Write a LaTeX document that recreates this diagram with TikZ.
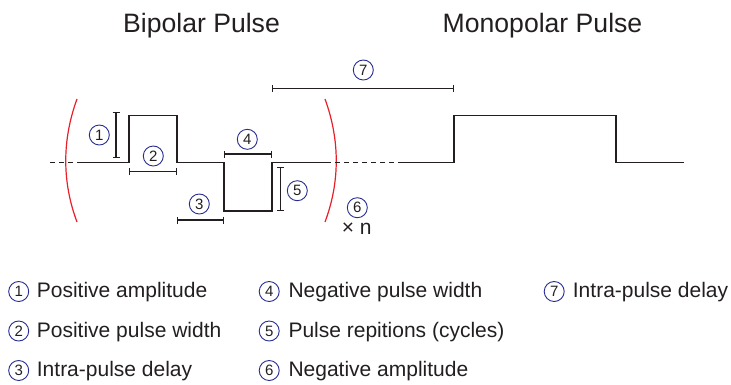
\documentclass[tikz,border=0pt]{standalone}
\usepackage{fontspec}
\setmainfont{Liberation Sans}
\usetikzlibrary{arrows.meta,positioning,calc}
\definecolor{inkgray}{RGB}{35,31,32}
\definecolor{numblue}{RGB}{40,45,145}
\definecolor{bracered}{RGB}{232,30,40}

\begin{document}
\begin{tikzpicture}[
        x=1pt, y=-1pt,
        wave/.style={draw=inkgray, line width=1.4pt, line join=miter},
        gap/.style={draw=inkgray, line width=1.4pt, dash pattern=on 5pt off 4pt},
        dim/.style={draw=inkgray, line width=1.1pt, {Bar[width=7pt,line width=1.1pt]}-{Bar[width=7pt,line width=1.1pt]}},
        repeatbrace/.style={draw=bracered, line width=1.2pt},
        num/.style={circle, draw=numblue, line width=0.9pt, minimum size=20pt, inner sep=0pt, text=inkgray, font=\fontsize{15}{15}\selectfont},
        headline/.style={text=inkgray, inner sep=0pt, anchor=base, font=\fontsize{26.6}{30}\selectfont},
        legtext/.style={text=inkgray, inner sep=0pt, anchor=base west, font=\fontsize{21}{25}\selectfont}
    ]
        \useasboundingbox (0,0) rectangle (731,384);

        \node[headline] (bipolar)   at (201.5,32.3) {Bipolar Pulse};
        \node[headline] (monopolar) at (542.5,32.3) {Monopolar Pulse};

        % pulse corners
        \coordinate (lead)   at (50,162.7);
        \coordinate (base0)  at (77,162.7);
        \coordinate (up1)    at (129,115.7);
        \coordinate (up2)    at (177,115.7);
        \coordinate (dn1)    at (224,211);
        \coordinate (dn2)    at (272,211);
        \coordinate (cut)    at (326,162.7);
        \coordinate (resume) at (402,162.7);
        \coordinate (mono1)  at (454,115.7);
        \coordinate (mono2)  at (616,115.7);
        \coordinate (tail)   at (684,162.7);

        \draw[repeatbrace] (77,99) .. controls (62,140) and (62,182) .. (77,222);
        \draw[repeatbrace] (325,99) .. controls (340,140) and (340,182) .. (325,222);

        \draw[gap] (lead) -- (base0);
        \draw[wave] (base0) -- (up1 |- base0) -- (up1) -- (up2) -- (up2 |- base0) -- (dn1 |- base0)
            -- (dn1) -- (dn2) -- (dn2 |- base0) -- (cut);
        \draw[gap] (cut) -- (resume);
        \draw[wave] (resume) -- (mono1 |- base0) -- (mono1) -- (mono2) -- (mono2 |- base0) -- (tail);

        \draw[dim] ($(up1)+(-13,-4)$) -- ($(up1 |- base0)+(-13,-4.4)$);
        \draw[dim] ($(up1 |- base0)+(0,9)$) -- ($(up2 |- base0)+(0,9)$);
        \draw[dim] ($(up2 |- dn1)+(0,9)$) -- ($(dn1)+(0,9)$);
        \draw[dim] ($(dn1 |- base0)+(0,-8.7)$) -- ($(dn2 |- base0)+(0,-8.7)$);
        \draw[dim] ($(dn2 |- base0)+(8.7,4.6)$) -- ($(dn2)+(8.7,0)$);
        \draw[dim] ($(dn2 |- base0)+(0,-74.4)$) -- ($(mono1 |- base0)+(0,-74.4)$);

        \node[num] (n1) at (99.3,135) {1};
        \node[num] (n2) at (153.3,156) {2};
        \node[num] (n3) at (199.3,204) {3};
        \node[num] (n4) at (247.3,139.3) {4};
        \node[num] (n5) at (297.3,190.7) {5};
        \node[num] (n6) at (357.3,207.7) {6};
        \node[num] (n7) at (363.3,70) {7};
        \node[legtext, anchor=base] (times) at (356.7,234) {× n};

        % legend
        \node[num] (k1) at (18.7,291.5) {1};
        \node[legtext] (t1) at (36.7,297.5) {Positive amplitude};
        \node[num] (k2) at (18.7,331) {2};
        \node[legtext] (t2) at (36.7,337) {Positive pulse width};
        \node[num] (k3) at (18.7,370.5) {3};
        \node[legtext] (t3) at (36.7,376.5) {Intra-pulse delay};

        \node[num] (k4) at (269.2,291.5) {4};
        \node[legtext] (t4) at (288.3,297.5) {Negative pulse width};
        \node[num] (k5) at (269.2,331) {5};
        \node[legtext] (t5) at (288.3,337) {Pulse repitions (cycles)};
        \node[num] (k6) at (269.2,370.5) {6};
        \node[legtext] (t6) at (288.3,376.5) {Negative amplitude};

        \node[num] (k7) at (554.2,291.5) {7};
        \node[legtext] (t7) at (572.7,297.5) {Intra-pulse delay};
    \end{tikzpicture}
\end{document}
